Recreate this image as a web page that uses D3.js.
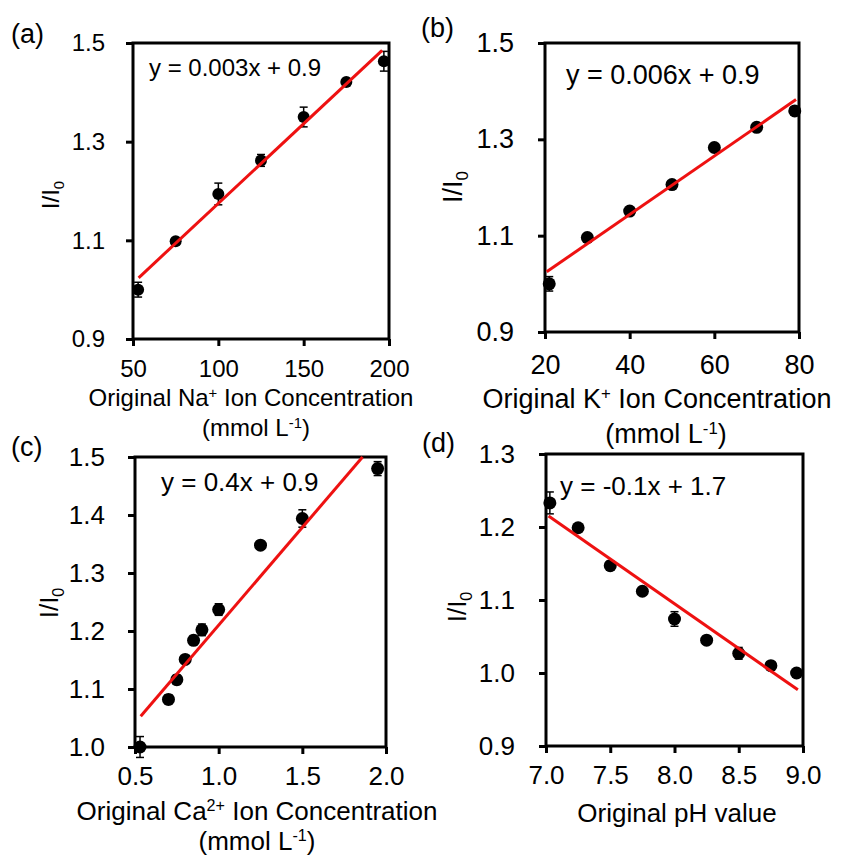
<!DOCTYPE html>
<html lang="en">
    <head>
        <meta charset="UTF-8">
        <title>Ion concentration and pH calibration</title>
        <style>
        body {
            margin: 0;
            background: #fff;
        }

        svg text {
            font-family: "Liberation Sans", Arial, sans-serif;
            fill: #000;
        }

        .frame {
            fill: none;
            stroke: #000;
            stroke-width: 3px;
        }

        .tick line {
            stroke: #000;
            stroke-width: 3px;
        }

        .fit {
            stroke: #ee1111;
            stroke-width: 3px;
        }

        .err {
            stroke: #000;
            stroke-width: 1.5px;
        }
        </style>
    </head>
    <body>
        <svg></svg>
        <script src="https://d3js.org/d3.v7.min.js"></script>
        <script>
    // (a) sodium
    const naX = [53, 75, 100, 125, 150, 175, 197];
    const naY = [1.0, 1.098, 1.194, 1.262, 1.35, 1.421, 1.463];
    const naErr = [0.015, 0.005, 0.022, 0.012, 0.02, 0.005, 0.02];
    const naFit = [[53.3, 1.024], [196, 1.485]];
    const naXTicks = [50, 100, 150, 200];
    const naYTicks = [0.9, 1.1, 1.3, 1.5];

    // (b) potassium
    const kX = [21, 30, 40, 50, 60, 70, 79];
    const kY = [1.0, 1.096, 1.151, 1.206, 1.283, 1.325, 1.359];
    const kErr = [0.015, 0.008, 0.006, 0.008, 0.008, 0.008, 0.008];
    const kFit = [[20.4, 1.025], [79.3, 1.3825]];
    const kXTicks = [20, 40, 60, 80];
    const kYTicks = [0.9, 1.1, 1.3, 1.5];

    // (c) calcium
    const caX = [0.53, 0.70, 0.75, 0.80, 0.85, 0.90, 1.00, 1.25, 1.50, 1.95];
    const caY = [1.0, 1.082, 1.116, 1.151, 1.184, 1.202, 1.237, 1.348, 1.394, 1.48];
    const caErr = [0.018, 0.008, 0.008, 0.006, 0.008, 0.01, 0.01, 0.006, 0.015, 0.012];
    const caFit = [[0.534, 1.053], [1.86, 1.5]];
    const caXTicks = [0.5, 1.0, 1.5, 2.0];
    const caYTicks = [1.0, 1.1, 1.2, 1.3, 1.4, 1.5];

    // (d) pH
    const phX = [7.03, 7.25, 7.5, 7.75, 8.0, 8.25, 8.5, 8.75, 8.95];
    const phY = [1.233, 1.199, 1.147, 1.112, 1.074, 1.045, 1.027, 1.010, 1.0];
    const phErr = [0.015, 0.004, 0.006, 0.005, 0.01, 0.005, 0.008, 0.004, 0.004];
    const phFit = [[7.02, 1.215], [8.96, 0.977]];
    const phXTicks = [7.0, 7.5, 8.0, 8.5, 9.0];
    const phYTicks = [0.9, 1.0, 1.1, 1.2, 1.3];

    const width = 841, height = 861;

    const svg = d3.select("svg")
        .attr("width", width)
        .attr("height", height);

    // text with super/subscripts, parts = [text, "sup"|"sub"|""]
    function richText(sel, parts, fs) {
        let shift = 0;
        parts.forEach(([t, kind]) => {
            const target = kind === "sup" ? -0.33 * fs : kind === "sub" ? 0.22 * fs : 0;
            sel.append("tspan")
                .attr("dy", target - shift)
                .attr("font-size", kind ? fs * 0.62 : fs)
                .text(t);
            shift = target;
        });
    }

    function drawPanel(p) {
        const g = svg.append("g");
        const x = d3.scaleLinear().domain(p.xDomain).range([p.left, p.right]);
        const y = d3.scaleLinear().domain(p.yDomain).range([p.bottom, p.top]);

        const xAxis = g.append("g")
            .attr("transform", `translate(0,${p.bottom})`)
            .call(d3.axisBottom(x).tickValues(p.xTicks).tickFormat(d3.format(p.xFmt))
                .tickSizeInner(7).tickSizeOuter(0).tickPadding(p.xPad));
        const yAxis = g.append("g")
            .attr("transform", `translate(${p.left},0)`)
            .call(d3.axisLeft(y).tickValues(p.yTicks).tickFormat(d3.format(".1f"))
                .tickSizeInner(7).tickSizeOuter(0).tickPadding(p.yPad));
        [xAxis, yAxis].forEach(a => {
            a.select(".domain").remove();
            a.selectAll("text").attr("font-size", p.fs).attr("font-family", null);
        });

        g.append("rect")
            .attr("class", "frame")
            .attr("x", p.left)
            .attr("y", p.top)
            .attr("width", p.right - p.left)
            .attr("height", p.bottom - p.top);

        const pts = p.xs.map((v, i) => ({ x: v, y: p.ys[i], e: p.errs[i] }));

        // error bars
        const eb = g.append("g").selectAll("g").data(pts).enter().append("g");
        eb.append("line").attr("class", "err")
            .attr("x1", d => x(d.x)).attr("x2", d => x(d.x))
            .attr("y1", d => y(d.y - d.e)).attr("y2", d => y(d.y + d.e));
        eb.append("line").attr("class", "err")
            .attr("x1", d => x(d.x) - 4).attr("x2", d => x(d.x) + 4)
            .attr("y1", d => y(d.y + d.e)).attr("y2", d => y(d.y + d.e));
        eb.append("line").attr("class", "err")
            .attr("x1", d => x(d.x) - 4).attr("x2", d => x(d.x) + 4)
            .attr("y1", d => y(d.y - d.e)).attr("y2", d => y(d.y - d.e));

        g.append("g").selectAll("circle")
            .data(pts)
            .enter().append("circle")
            .attr("cx", d => x(d.x))
            .attr("cy", d => y(d.y))
            .attr("r", p.r)
            .attr("fill", "#000");

        // linear trendline
        g.append("line")
            .attr("class", "fit")
            .attr("x1", x(p.fit[0][0])).attr("y1", y(p.fit[0][1]))
            .attr("x2", x(p.fit[1][0])).attr("y2", y(p.fit[1][1]));

        g.append("text")
            .attr("x", p.eq[0]).attr("y", p.eq[1])
            .attr("font-size", p.fs)
            .text(p.eqText);

        // y label I/I0
        const yl = g.append("text")
            .attr("transform", `translate(${p.yLab[0]},${p.yLab[1]}) rotate(-90)`)
            .attr("text-anchor", "middle");
        richText(yl, [["I/I", ""], ["0", "sub"]], p.fs);

        // x title (one or two lines)
        p.xTitle.forEach((line, i) => {
            const t = g.append("text")
                .attr("x", p.xTitlePos[i][0])
                .attr("y", p.xTitlePos[i][1])
                .attr("text-anchor", "middle");
            richText(t, line, p.fs);
        });

        g.append("text")
            .attr("x", p.tag[0]).attr("y", p.tag[1])
            .attr("font-size", 27)
            .text(p.tagText);
    }

    drawPanel({
        xs: naX, ys: naY, errs: naErr, fit: naFit,
        xDomain: [50, 200], yDomain: [0.9, 1.5], xTicks: naXTicks, yTicks: naYTicks, xFmt: "d",
        left: 133, right: 389, top: 43, bottom: 339,
        fs: 24, r: 6, xPad: 14, yPad: 21,
        eq: [149, 76], eqText: "y = 0.003x + 0.9",
        yLab: [59, 195],
        xTitle: [[["Original Na", ""], ["+", "sup"], [" Ion Concentration", ""]],
                 [["(mmol L", ""], ["-1", "sup"], [")", ""]]],
        xTitlePos: [[251, 406], [256, 436]],
        tag: [11, 43], tagText: "(a)"
    });

    drawPanel({
        xs: kX, ys: kY, errs: kErr, fit: kFit,
        xDomain: [20, 80], yDomain: [0.9, 1.5], xTicks: kXTicks, yTicks: kYTicks, xFmt: "d",
        left: 545, right: 799, top: 43, bottom: 332,
        fs: 27, r: 6.5, xPad: 16, yPad: 24,
        eq: [566, 84], eqText: "y = 0.006x + 0.9",
        yLab: [462, 187],
        xTitle: [[["Original K", ""], ["+", "sup"], [" Ion Concentration", ""]],
                 [["(mmol L", ""], ["-1", "sup"], [")", ""]]],
        xTitlePos: [[657, 408], [666, 443]],
        tag: [421, 37], tagText: "(b)"
    });

    drawPanel({
        xs: caX, ys: caY, errs: caErr, fit: caFit,
        xDomain: [0.5, 2.0], yDomain: [1.0, 1.5], xTicks: caXTicks, yTicks: caYTicks, xFmt: ".1f",
        left: 135, right: 386, top: 457, bottom: 747,
        fs: 26, r: 6.5, xPad: 13, yPad: 23,
        eq: [161, 491], eqText: "y = 0.4x + 0.9",
        yLab: [58, 603],
        xTitle: [[["Original Ca", ""], ["2+", "sup"], [" Ion Concentration", ""]],
                 [["(mmol L", ""], ["-1", "sup"], [")", ""]]],
        xTitlePos: [[257, 820], [257, 850]],
        tag: [11, 456], tagText: "(c)"
    });

    drawPanel({
        xs: phX, ys: phY, errs: phErr, fit: phFit,
        xDomain: [7.0, 9.0], yDomain: [0.9, 1.3], xTicks: phXTicks, yTicks: phYTicks, xFmt: ".1f",
        left: 546, right: 803, top: 454, bottom: 746,
        fs: 26, r: 6.5, xPad: 13, yPad: 24,
        eq: [560, 495], eqText: "y = -0.1x + 1.7",
        yLab: [466, 607],
        xTitle: [[["Original pH value", ""]]],
        xTitlePos: [[677, 822]],
        tag: [422, 452], tagText: "(d)"
    });
        </script>
    </body>
</html>
